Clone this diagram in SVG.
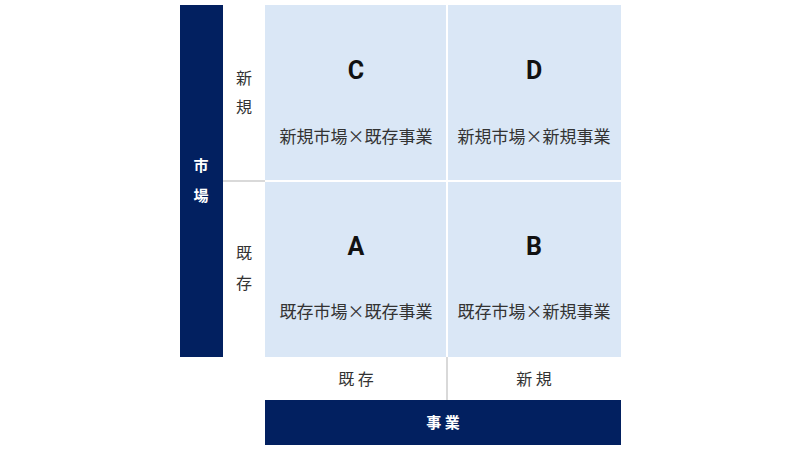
<svg xmlns="http://www.w3.org/2000/svg" width="800" height="450" viewBox="0 0 800 450">
<style>
.cell{fill:#dae7f6}
.navy{fill:#022060}
.big{font-family:Roboto,"Noto Sans CJK JP",sans-serif;font-weight:bold;font-size:25px;fill:#111;text-anchor:middle}
.lbl{font-family:"Noto Sans CJK JP",sans-serif;font-size:17px;fill:#333;text-anchor:middle}
.ax{font-family:"Noto Sans CJK JP",sans-serif;font-size:16px;fill:#333;text-anchor:middle}
.wt{font-family:"Noto Sans CJK JP",sans-serif;font-size:15px;font-weight:bold;fill:#fff;text-anchor:middle}
.sep{stroke:#d9d9d9;stroke-width:2;fill:none}
</style>
<rect width="800" height="450" fill="#fff"/>
<g id="market-axis">
<rect class="navy" x="180" y="5" width="43" height="352"/>
<text class="wt" x="201" y="171">市</text>
<text class="wt" x="201" y="201">場</text>
</g>
<g id="business-axis">
<rect class="navy" x="265" y="400" width="356" height="45"/>
<text class="wt" x="443" y="428">事 業</text>
</g>
<g id="row-labels">
<text class="ax" x="244" y="84">新</text>
<text class="ax" x="244" y="113">規</text>
<text class="ax" x="244" y="259">既</text>
<text class="ax" x="244" y="289">存</text>
</g>
<g id="col-labels">
<text class="ax" x="356" y="385">既 存</text>
<text class="ax" x="534" y="385">新 規</text>
</g>
<g id="cell-C">
<rect class="cell" x="265" y="5" width="181" height="175"/>
<text class="big" x="356" y="79">C</text>
<text class="lbl" x="356" y="143">新規市場×既存事業</text>
</g>
<g id="cell-D">
<rect class="cell" x="448" y="5" width="173" height="175"/>
<text class="big" x="534" y="79">D</text>
<text class="lbl" x="534" y="143">新規市場×新規事業</text>
</g>
<g id="cell-A">
<rect class="cell" x="265" y="182" width="181" height="175"/>
<text class="big" x="356" y="255">A</text>
<text class="lbl" x="356" y="318">既存市場×既存事業</text>
</g>
<g id="cell-B">
<rect class="cell" x="448" y="182" width="173" height="175"/>
<text class="big" x="534" y="255">B</text>
<text class="lbl" x="534" y="318">既存市場×新規事業</text>
</g>
<g id="connectors">
<line class="sep" x1="223" y1="181" x2="265" y2="181"/>
<line class="sep" x1="447" y1="357" x2="447" y2="400"/>
</g>
</svg>
